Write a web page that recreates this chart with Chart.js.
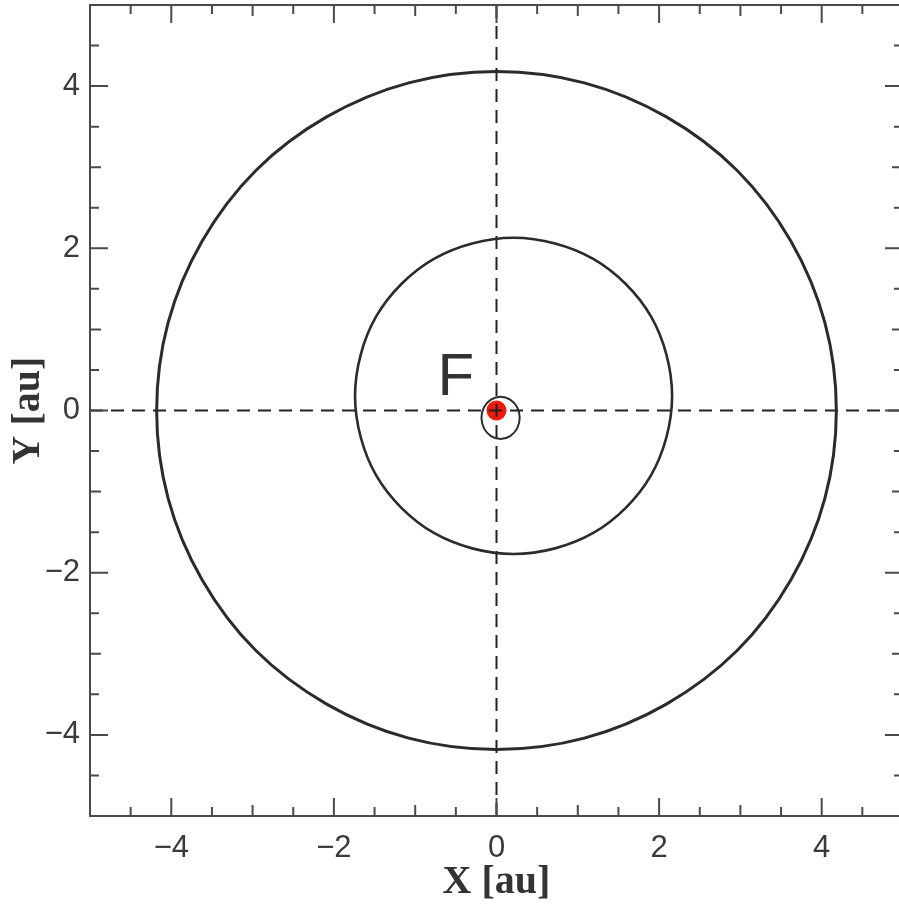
<!DOCTYPE html>
<html><head><meta charset="utf-8">
<script src="https://cdn.jsdelivr.net/npm/chart.js@4.4.0/dist/chart.umd.min.js"></script>
<style>html,body{margin:0;padding:0;background:#fff;overflow:hidden;width:899px;height:908px}canvas{display:block;margin-top:-5px}</style>
</head><body>
<canvas id="c" width="913" height="913"></canvas>
<script>
// Tick labels
const xTickValues = [-4, -2, 0, 2, 4];
const yTickValues = [-4, -2, 0, 2, 4];

// Outer orbit (every 15 degrees; loop overlaps one step at each end)
const outerX = [4.04, 4.18, 4.04, 3.62, 2.96, 2.09, 1.08, 0, -1.08, -2.09, -2.96, -3.62, -4.04, -4.18, -4.04, -3.62, -2.96, -2.09, -1.08, 0, 1.08, 2.09, 2.96, 3.62, 4.04, 4.18, 4.04];
const outerY = [-1.08, 0, 1.08, 2.09, 2.96, 3.62, 4.04, 4.18, 4.04, 3.62, 2.96, 2.09, 1.08, 0, -1.08, -2.09, -2.96, -3.62, -4.04, -4.18, -4.04, -3.62, -2.96, -2.09, -1.08, 0, 1.08];

// Middle orbit
const midX = [2.09, 2.16, 2.09, 1.90, 1.59, 1.19, 0.72, 0.21, -0.30, -0.77, -1.17, -1.48, -1.67, -1.74, -1.67, -1.48, -1.17, -0.77, -0.30, 0.21, 0.72, 1.19, 1.59, 1.90, 2.09, 2.16, 2.09];
const midY = [-0.33, 0.18, 0.69, 1.16, 1.56, 1.87, 2.06, 2.13, 2.06, 1.87, 1.56, 1.16, 0.69, 0.18, -0.33, -0.80, -1.20, -1.51, -1.70, -1.77, -1.70, -1.51, -1.20, -0.80, -0.33, 0.18, 0.69];

// Inner (small) orbit
const innerX = [0.254, 0.285, 0.254, 0.168, 0.05, -0.068, -0.154, -0.185, -0.154, -0.068, 0.05, 0.168, 0.254, 0.285, 0.254];
const innerY = [-0.22, -0.09, 0.04, 0.135, 0.17, 0.135, 0.04, -0.09, -0.22, -0.315, -0.35, -0.315, -0.22, -0.09, 0.04];

// Focus point
const focusX = [0];
const focusY = [0];

// Reference axes through origin
const hAxisX = [-5, 5];
const hAxisY = [0, 0];
const vAxisX = [0, 0];
const vAxisY = [-5, 5];

const pts = (xs, ys) => xs.map((x, i) => ({x: x, y: ys[i]}));
const fmt = v => (v < 0 ? '\u2212' + Math.abs(v) : String(v));

const frameTicks = {
  id: 'frameTicks',
  afterDraw(chart) {
    const ctx = chart.ctx;
    const {left, right, top, bottom} = chart.chartArea;
    const xs = chart.scales.x, ys = chart.scales.y;
    ctx.save();
    ctx.strokeStyle = '#4a4a4a';
    ctx.lineWidth = 2;
    ctx.beginPath();
    for (let v = -5; v <= 5.0001; v += 0.5) {
      const r = Math.round(v * 2) / 2;
      const len = (r % 2 === 0) ? 18 : (Number.isInteger(r) ? 11 : 9);
      const px = xs.getPixelForValue(r);
      ctx.moveTo(px, bottom); ctx.lineTo(px, bottom - len);
      ctx.moveTo(px, top); ctx.lineTo(px, top + len);
      const py = ys.getPixelForValue(r);
      ctx.moveTo(left, py); ctx.lineTo(left + len, py);
      ctx.moveTo(right, py); ctx.lineTo(right - len, py);
    }
    ctx.stroke();
    ctx.strokeRect(left, top, right - left, bottom - top);
    ctx.restore();
  },
  afterDatasetsDraw(chart) {
    const ctx = chart.ctx;
    const xs = chart.scales.x, ys = chart.scales.y;
    ctx.save();
    ctx.fillStyle = '#333';
    ctx.font = '60px "Liberation Sans", Arial, sans-serif';
    ctx.textAlign = 'center';
    ctx.textBaseline = 'alphabetic';
    ctx.fillText('F', xs.getPixelForValue(-0.5), ys.getPixelForValue(0.19));
    ctx.restore();
  }
};

// orbit loops: the first and last (wrap-around helper) segments are hidden so each arc is drawn once
function orbit(xs, ys, width, order) {
  const n = xs.length;
  const col = '#2b2b2b';
  return {
    data: pts(xs, ys), showLine: true, pointRadius: 0, borderColor: col, borderWidth: width,
    tension: 0.34, fill: false, order: order,
    segment: {borderColor: c => (c.p0DataIndex === 0 || c.p1DataIndex === n - 1) ? 'rgba(0,0,0,0)' : col}
  };
}

new Chart(document.getElementById('c'), {
  type: 'scatter',
  data: {
    datasets: [
      orbit(innerX, innerY, 2, 0),
      orbit(midX, midY, 2.6, 1),
      orbit(outerX, outerY, 3, 1),
      {data: pts(hAxisX, hAxisY), showLine: true, pointRadius: 0, borderColor: '#222', borderWidth: 2, borderDash: [13, 8], order: 2},
      {data: pts(vAxisX, vAxisY), showLine: true, pointRadius: 0, borderColor: '#222', borderWidth: 2, borderDash: [13, 8], order: 2},
      {data: pts(focusX, focusY), pointRadius: 10, pointBackgroundColor: '#f01a0a', pointBorderWidth: 0, backgroundColor: '#f01a0a', order: 5}
    ]
  },
  options: {
    responsive: false,
    animation: false,
    layout: {padding: {left: 0, top: 10, right: 10, bottom: 0}},
    plugins: {legend: {display: false}, tooltip: {enabled: false}},
    scales: {
      x: {
        type: 'linear', min: -5, max: 5,
        afterBuildTicks: s => { s.ticks = xTickValues.map(v => ({value: v})); },
        afterFit: s => { s.height = 92; s.paddingLeft = 0; s.paddingRight = 0; },
        grid: {display: false, drawTicks: false},
        border: {display: false},
        ticks: {callback: fmt, padding: 14, maxRotation: 0, autoSkip: false, color: '#3a3a3a', font: {family: '"Liberation Sans", Arial, sans-serif', size: 31}},
        title: {display: true, text: 'X [au]', color: '#333', padding: {top: 0, bottom: 1}, font: {family: '"Liberation Serif", "Times New Roman", serif', size: 40, weight: 'bold'}}
      },
      y: {
        type: 'linear', min: -5, max: 5,
        afterBuildTicks: s => { s.ticks = yTickValues.map(v => ({value: v})); },
        afterFit: s => { s.width = 90; s.paddingTop = 0; s.paddingBottom = 0; },
        grid: {display: false, drawTicks: false},
        border: {display: false},
        ticks: {callback: fmt, padding: 10, autoSkip: false, color: '#3a3a3a', font: {family: '"Liberation Sans", Arial, sans-serif', size: 31}},
        title: {display: true, text: 'Y [au]', color: '#333', padding: {top: 5, bottom: 0}, font: {family: '"Liberation Serif", "Times New Roman", serif', size: 40, weight: 'bold'}}
      }
    }
  },
  plugins: [frameTicks]
});
</script>
</body></html>
